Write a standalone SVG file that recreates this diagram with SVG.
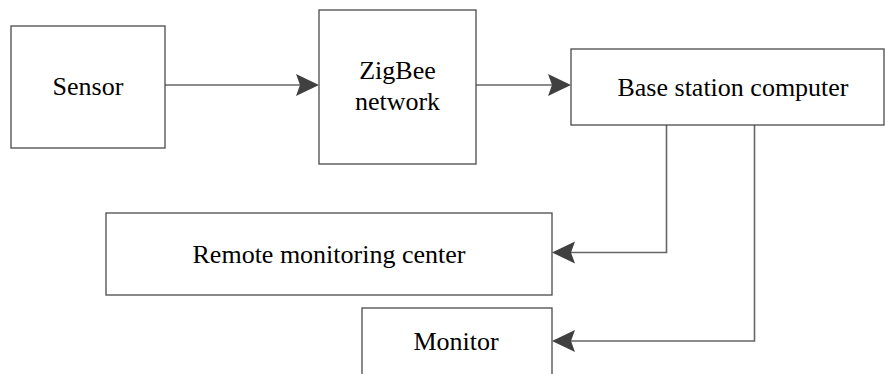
<svg xmlns="http://www.w3.org/2000/svg" width="885" height="374" viewBox="0 0 885 374">
<style>
.box{fill:#fff;stroke:#4a4a4a;stroke-width:1.3}
.lbl{fill:#000;text-anchor:middle}
.con{fill:none;stroke:#666;stroke-width:1.6}
.head{fill:#404040}
</style>
<defs>
<path id="ah" d="M0,0 L-23,-11 L-19,0 L-23,11 Z"/>
</defs>
<rect width="885" height="374" fill="#fff"/>
<g id="connectors">
<line class="con" x1="165" y1="85" x2="300" y2="85"/>
<use href="#ah" class="head" transform="translate(319,85)"/>
<line class="con" x1="476" y1="85" x2="552" y2="85"/>
<use href="#ah" class="head" transform="translate(571,85)"/>
<polyline class="con" points="666.5,125 666.5,252.5 570,252.5"/>
<use href="#ah" class="head" transform="translate(552,252.5) rotate(180)"/>
<polyline class="con" points="754.5,125 754.5,341 570,341"/>
<use href="#ah" class="head" transform="translate(552,341) rotate(180)"/>
</g>
<g id="sensor">
<rect class="box" x="11" y="26" width="154" height="122"/>
<text class="lbl" x="88" y="95" font-family="Liberation Serif" font-size="26">Sensor</text>
</g>
<g id="zigbee">
<rect class="box" x="319" y="10" width="157" height="154"/>
<text class="lbl" x="397.5" y="79" font-family="Liberation Serif" font-size="26">ZigBee</text>
<text class="lbl" x="397.5" y="110" font-family="Liberation Serif" font-size="26">network</text>
</g>
<g id="base">
<rect class="box" x="571" y="49" width="313" height="76"/>
<text class="lbl" x="733" y="96" font-family="Liberation Serif" font-size="26">Base station computer</text>
</g>
<g id="remote">
<rect class="box" x="106" y="213" width="446" height="82"/>
<text class="lbl" x="329" y="263" font-family="Liberation Serif" font-size="26">Remote monitoring center</text>
</g>
<g id="monitor">
<rect class="box" x="362" y="308" width="190" height="70"/>
<text class="lbl" x="456" y="350" font-family="Liberation Serif" font-size="26">Monitor</text>
</g>
</svg>
